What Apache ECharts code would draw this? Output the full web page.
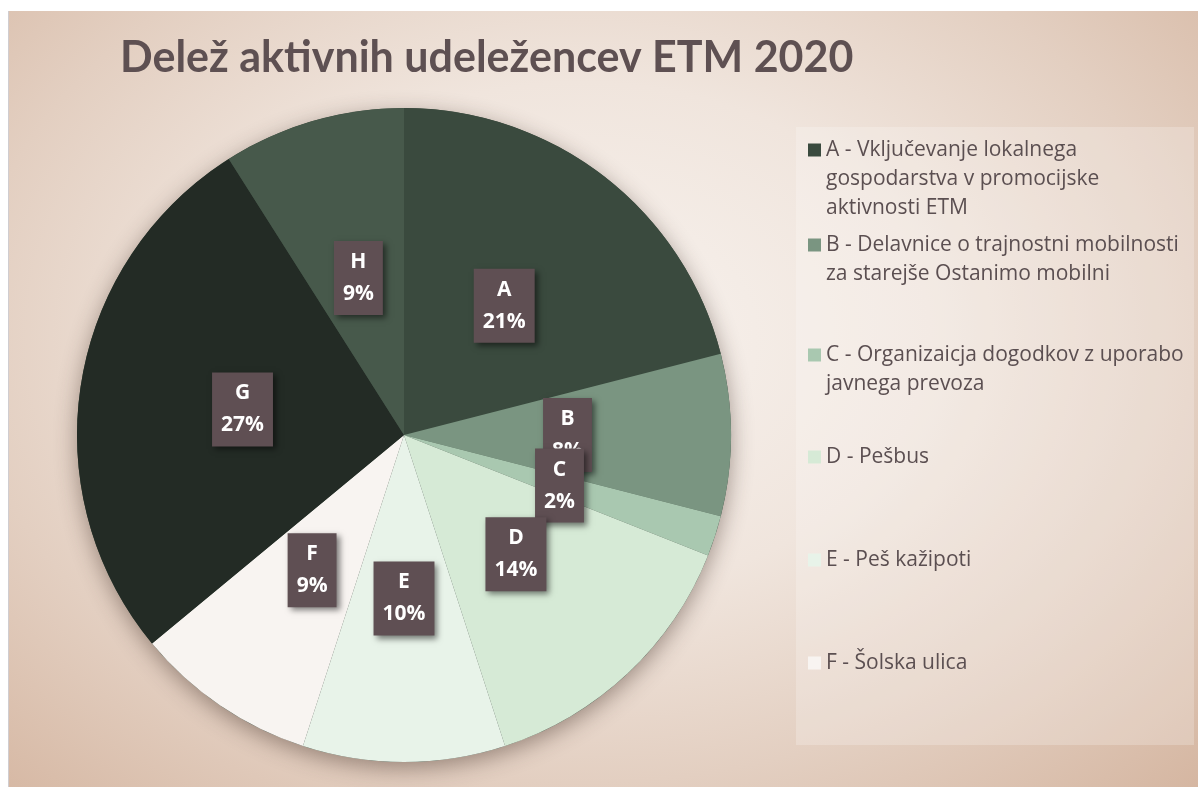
<!DOCTYPE html>
<html>
<head>
<meta charset="utf-8">
<script src="https://cdn.jsdelivr.net/npm/echarts@6/dist/echarts.min.js"></script>
<style>
  html, body { margin: 0; padding: 0; background: #ffffff; }
  #chart {
    position: absolute;
    left: 8px;
    top: 11px;
    width: 1190px;
    height: 776px;
    border-left: 1px solid #d0cdd0;
    background: radial-gradient(ellipse at 48% 42%, #f8f3ef 0%, #f0e5dd 40%, #e3cfc1 70%, #d5b6a1 100%);
  }
</style>
</head>
<body>
<div id="chart"></div>
<script>
// podatki
const letters = ['A', 'B', 'C', 'D', 'E', 'F', 'G', 'H']
const names = [
  'A - Vključevanje lokalnega gospodarstva v promocijske aktivnosti ETM',
  'B - Delavnice o trajnostni mobilnosti za starejše Ostanimo mobilni',
  'C - Organizaicja dogodkov z uporabo javnega prevoza',
  'D - Pešbus',
  'E - Peš kažipoti',
  'F - Šolska ulica',
  'G',
  'H'
]
const values = [21, 8, 2, 14, 10, 9, 27, 9]
const colors = ['#3a4a3e', '#7a9581', '#a9c8b0', '#d6ead6', '#e8f3e9', '#f8f4f1', '#232b25', '#47594b']

// prikaz legende (vrstice kot v originalu)
const legendLines = [
  ['A - Vključevanje lokalnega', 'gospodarstva v promocijske', 'aktivnosti ETM'],
  ['B - Delavnice o trajnostni mobilnosti', 'za starejše Ostanimo mobilni'],
  ['C - Organizaicja dogodkov z uporabo', 'javnega prevoza'],
  ['D - Pešbus'],
  ['E - Peš kažipoti'],
  ['F - Šolska ulica']
]
const legendFirstLineY = [139, 234, 344, 446, 549, 652]

const chart = echarts.init(document.getElementById('chart'))

const total = values.reduce((a, b) => a + b, 0)
// sredina vsakega izseka (za oznake)
let acc = 0
const labelData = values.map((v, i) => {
  const mid = acc + v / 2
  acc += v
  return { value: [0.5, mid], letter: letters[i], pct: Math.round(v / total * 100) }
})

const lh = 29
const legends = legendLines.map((lines, i) => {
  // prazne vrstice zgoraj, da je ikona v višini prve vrstice
  const pad = new Array(lines.length - 1).fill('')
  const text = pad.concat(lines).join('\n')
  const h = (2 * lines.length - 1) * lh
  return {
    data: [names[i]],
    left: 799,
    top: legendFirstLineY[i] - h / 2,
    padding: 0,
    itemWidth: 13,
    itemHeight: 13,
    itemGap: 0,
    icon: 'rect',
    selectedMode: false,
    formatter: () => text,
    textStyle: {
      fontFamily: 'Open Sans',
      fontSize: 21,
      lineHeight: lh,
      color: '#5b4f51'
    }
  }
})

const option = {
  backgroundColor: 'transparent',
  color: colors,
  title: {
    text: 'Delež aktivnih udeležencev ETM 2020',
    left: 106,
    top: 21,
    textStyle: {
      fontFamily: 'Lato',
      fontWeight: 'bold',
      fontSize: 43,
      color: '#5e5052'
    }
  },
  legend: legends,
  graphic: [{
    type: 'rect',
    left: 787,
    top: 116,
    shape: { width: 398, height: 618 },
    style: { fill: 'rgba(255,255,255,0.22)' },
    z: -1,
    silent: true
  }],
  polar: { center: [395, 424], radius: 327 },
  angleAxis: { type: 'value', min: 0, max: total, startAngle: 90, clockwise: true, show: false },
  radiusAxis: { type: 'value', min: 0, max: 1, show: false },
  series: [
    {
      // senca pod tortnim grafikonom
      type: 'pie',
      center: [395, 424],
      radius: [0, 327],
      silent: true,
      label: { show: false },
      labelLine: { show: false },
      itemStyle: {
        color: '#3a4a3e',
        shadowBlur: 22,
        shadowOffsetY: 6,
        shadowColor: 'rgba(60,40,30,0.45)'
      },
      data: [{ name: '_', value: 1 }],
      z: 1
    },
    {
      type: 'pie',
      center: [395, 424],
      radius: [0, 327],
      startAngle: 90,
      clockwise: true,
      emphasis: { disabled: true },
      itemStyle: { borderWidth: 0 },
      label: { show: false },
      labelLine: { show: false },
      data: values.map((v, i) => ({ name: names[i], value: v })),
      z: 2
    },
    {
      // oznake izsekov
      type: 'scatter',
      coordinateSystem: 'polar',
      symbolSize: 0,
      silent: true,
      z: 5,
      itemStyle: { opacity: 1 },
      label: {
        show: true,
        opacity: 1,
        position: 'inside',
        formatter: p => p.data.letter + '\n' + p.data.pct + '%',
        fontFamily: 'Open Sans',
        fontWeight: 'bold',
        fontSize: 21,
        lineHeight: 32,
        color: '#ffffff',
        backgroundColor: '#5f4f53',
        padding: [5, 9],
        shadowBlur: 6,
        shadowOffsetX: 3,
        shadowOffsetY: 3,
        shadowColor: 'rgba(0,0,0,0.5)'
      },
      data: labelData
    }
  ]
}

chart.setOption(option)
</script>
</body>
</html>
